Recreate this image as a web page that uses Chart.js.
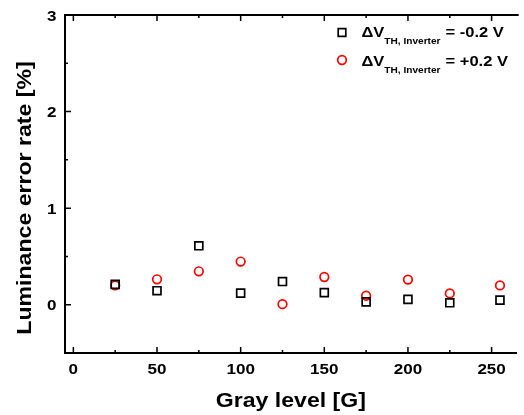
<!DOCTYPE html>
<html><head><meta charset="utf-8">
<script src="https://cdn.jsdelivr.net/npm/chart.js@4/dist/chart.umd.min.js"></script>
<style>html,body{margin:0;padding:0;background:#fff}#wrap{width:524px;height:415px}</style>
</head><body><div id="wrap"><canvas id="c" width="524" height="415"></canvas></div>
<script>
const grayLevels = [25, 50, 75, 100, 125, 150, 175, 200, 225, 255];
const errMinus = [0.21, 0.145, 0.61, 0.12, 0.24, 0.125, 0.03, 0.055, 0.02, 0.048];
const errPlus = [0.20, 0.263, 0.346, 0.447, 0.006, 0.287, 0.093, 0.26, 0.117, 0.20];
const xTicks = [0, 50, 100, 150, 200, 250];
const yTicks = [0, 1, 2, 3];
const xMinor = [25, 75, 125, 175, 225];
const yMinor = [0.5, 1.5, 2.5];
const seriesLabels = ['-0.2 V', '+0.2 V'];
const xTitle = 'Gray level [G]';
const yTitle = 'Luminance error rate [%]';

const FONT = '"Liberation Sans", Arial, sans-serif';
const SX = 1.1;

function textW(ctx, t, size) {
  ctx.font = 'bold ' + size + 'px ' + FONT;
  return ctx.measureText(t).width * SX;
}
// draw horizontally-widened text; align: 'left' | 'center' | 'right'; y = baseline
function drawText(ctx, t, x, y, size, align) {
  ctx.save();
  ctx.font = 'bold ' + size + 'px ' + FONT;
  ctx.textBaseline = 'alphabetic';
  ctx.textAlign = align;
  ctx.translate(x, y);
  ctx.scale(SX, 1);
  ctx.fillStyle = '#000';
  ctx.fillText(t, 0, 0);
  ctx.restore();
}

const framePlugin = {
  id: 'frame',
  afterDraw(chart) {
    const ctx = chart.ctx, a = chart.chartArea;
    const xs = chart.scales.x, ys = chart.scales.y;
    ctx.save();
    ctx.strokeStyle = '#000';
    ctx.lineWidth = 2;
    ctx.beginPath();
    ctx.moveTo(a.left, a.top); ctx.lineTo(a.right + 2, a.top);
    ctx.stroke();
    ctx.lineWidth = 1.5;
    ctx.beginPath();
    xTicks.forEach(v => { const p = xs.getPixelForValue(v); ctx.moveTo(p, a.bottom); ctx.lineTo(p, a.bottom - 6); ctx.moveTo(p, a.top); ctx.lineTo(p, a.top + 6); });
    xMinor.forEach(v => { const p = xs.getPixelForValue(v); ctx.moveTo(p, a.bottom); ctx.lineTo(p, a.bottom - 3); ctx.moveTo(p, a.top); ctx.lineTo(p, a.top + 3); });
    yTicks.forEach(v => { const p = ys.getPixelForValue(v); ctx.moveTo(a.left, p); ctx.lineTo(a.left + 6, p); });
    yMinor.forEach(v => { const p = ys.getPixelForValue(v); ctx.moveTo(a.left, p); ctx.lineTo(a.left + 3, p); });
    ctx.stroke();

    // tick labels
    const ts = 15.5, cap = 0.716 * ts;
    xTicks.forEach(v => drawText(ctx, String(v), xs.getPixelForValue(v), 368 + cap / 2, ts, 'center'));
    yTicks.forEach(v => drawText(ctx, String(v), 56.5, ys.getPixelForValue(v) + cap / 2, ts, 'right'));

    // axis titles
    drawText(ctx, xTitle, (a.left + a.right) / 2, 406.5, 21, 'center');
    ctx.save();
    ctx.translate(31, 198);
    ctx.rotate(-Math.PI / 2);
    drawText(ctx, yTitle, 0, 0, 21, 'center');
    ctx.restore();

    // legend
    const items = [
      {style: 'rect', color: '#000', y: 32.5, base: 36.7, label: seriesLabels[0]},
      {style: 'circle', color: '#f00', y: 60, base: 65.5, label: seriesLabels[1]}
    ];
    items.forEach(it => {
      ctx.lineWidth = 1.7;
      ctx.strokeStyle = it.color;
      ctx.beginPath();
      if (it.style === 'rect') ctx.rect(342 - 3.8, it.y - 3.8, 7.6, 7.6);
      else ctx.arc(342, it.y, 4.3, 0, Math.PI * 2);
      ctx.stroke();
      let x = 361.5;
      drawText(ctx, '\u0394V', x, it.base, 15, 'left');
      x += textW(ctx, '\u0394V', 15);
      drawText(ctx, 'TH, Inverter', x, it.base + 7.5, 9.2, 'left');
      x += textW(ctx, 'TH, Inverter', 9.2) + 5;
      drawText(ctx, '= ' + it.label, x, it.base, 15, 'left');
    });
    ctx.restore();
  }
};

new Chart(document.getElementById('c'), {
  type: 'scatter',
  data: {
    datasets: [
      { label: seriesLabels[0], data: grayLevels.map((g, i) => ({x: g, y: errMinus[i]})),
        pointStyle: 'rect', pointRadius: 5.6, borderColor: '#000', backgroundColor: 'rgba(0,0,0,0)', borderWidth: 1.7, pointHoverRadius: 5.6 },
      { label: seriesLabels[1], data: grayLevels.map((g, i) => ({x: g, y: errPlus[i]})),
        pointStyle: 'circle', pointRadius: 4.3, borderColor: '#f00', backgroundColor: 'rgba(0,0,0,0)', borderWidth: 1.7, pointHoverRadius: 4.3 }
    ]
  },
  options: {
    responsive: false,
    animation: false,
    layout: { padding: { top: 15, right: 0, left: 0, bottom: 0 } },
    plugins: { legend: { display: false }, tooltip: { enabled: false } },
    scales: {
      x: {
        type: 'linear', min: -5, max: 265,
        afterBuildTicks(s) { s.ticks = xTicks.map(v => ({value: v})); },
        afterFit(s) { s.height = 62; },
        grid: { display: true, drawOnChartArea: false, drawTicks: false },
        border: { display: true, color: '#000', width: 2 },
        ticks: { display: false },
        title: { display: false }
      },
      y: {
        type: 'linear', min: -0.5, max: 3,
        afterBuildTicks(s) { s.ticks = yTicks.map(v => ({value: v})); },
        afterFit(s) { s.width = 65; },
        grid: { display: true, drawOnChartArea: false, drawTicks: false },
        border: { display: true, color: '#000', width: 2 },
        ticks: { display: false },
        title: { display: false }
      }
    }
  },
  plugins: [framePlugin]
});
</script></body></html>
